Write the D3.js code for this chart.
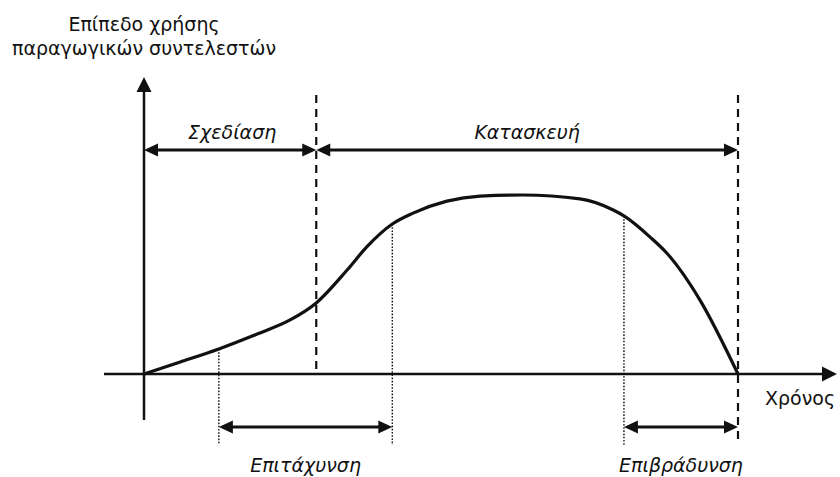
<!DOCTYPE html>
<html>
<head>
<meta charset="utf-8">
<script src="https://cdn.jsdelivr.net/npm/d3@7"></script>
<style>
  body { margin: 0; background: #fff; }
  text { font-family: "DejaVu Sans", "Noto Sans", sans-serif; fill: #111; }
</style>
</head>
<body>
<svg id="chart" width="840" height="477"></svg>
<script>
// ====================== DATA ======================
// time runs 0 (start of project) .. 100 (end of construction), level 0 .. 100 (peak)
const curveTime  = [0, 6.1, 12.6, 19.5, 24.6, 29, 34.2, 37.5, 41.8, 45.3, 51, 56.6, 63.8, 73.4, 79, 80.8, 85.2, 88, 93.6, 100];
const curveLevel = [0, 6.7, 14, 22.9, 30.2, 39.7, 58.1, 71, 83.8, 89.9, 96.6, 99.4, 100, 97.8, 91.6, 88.3, 76.5, 67.6, 41.3, 0];

const phaseNames = ["Σχεδίαση", "Κατασκευή"];
const phaseStart = [0, 29];
const phaseEnd   = [29, 100];

const rateNames = ["Επιτάχυνση", "Επιβράδυνση"];
const rateStart = [12.6, 80.8];
const rateEnd   = [41.8, 100];

const yTitle = ["Επίπεδο χρήσης", "παραγωγικών συντελεστών"];
const xTitle = "Χρόνος";

// ====================== LAYOUT ======================
const svg = d3.select("#chart");
const originX = 144, endX = 738;      // pixel positions of time 0 and 100
const originY = 374, peakY = 195;     // pixel positions of level 0 and 100

const x = d3.scaleLinear().domain([0, 100]).range([originX, endX]);
const y = d3.scaleLinear().domain([0, 100]).range([originY, peakY]);

const axisLeft = 104, axisRight = 837, axisTop = 77, axisBottom = 420;
const markTop = 95, markBottom = 445;
const phaseArrowY = 150, rateArrowY = 427;
const ink = "#111";

// filled arrow head with tip at (tx,ty) pointing in direction (dx,dy)
function head(tx, ty, dx, dy, len, half) {
  const px = -dy, py = dx;
  const bx = tx - dx * len, by = ty - dy * len;
  svg.append("path")
    .attr("d", `M${tx},${ty}L${bx + px * half},${by + py * half}L${bx - px * half},${by - py * half}Z`)
    .attr("fill", ink);
}

// ====================== AXES ======================
svg.append("line")
  .attr("x1", axisLeft).attr("x2", axisRight - 12)
  .attr("y1", originY).attr("y2", originY)
  .attr("stroke", ink).attr("stroke-width", 2.5);
head(axisRight, originY, 1, 0, 15, 7.5);

svg.append("line")
  .attr("x1", originX).attr("x2", originX)
  .attr("y1", axisBottom).attr("y2", axisTop + 12)
  .attr("stroke", ink).attr("stroke-width", 2.5);
head(originX, axisTop, 0, -1, 15, 7.5);

// ====================== PHASE BOUNDARIES ======================
// dashed: end of design (down to the axis) and end of construction
svg.append("line")
  .attr("x1", x(phaseEnd[0])).attr("x2", x(phaseEnd[0]))
  .attr("y1", markTop).attr("y2", originY)
  .attr("stroke", ink).attr("stroke-width", 2.2).attr("stroke-dasharray", "8,6");
svg.append("line")
  .attr("x1", x(phaseEnd[1])).attr("x2", x(phaseEnd[1]))
  .attr("y1", markTop).attr("y2", markBottom)
  .attr("stroke", ink).attr("stroke-width", 2.2).attr("stroke-dasharray", "8,6");

// dotted: from the curve down to the lower arrows
const levelAt = t => {
  const i = curveTime.indexOf(t);
  return i >= 0 ? curveLevel[i] : 0;
};
[rateStart[0], rateEnd[0], rateStart[1]].forEach(t => {
  svg.append("line")
    .attr("x1", x(t)).attr("x2", x(t))
    .attr("y1", y(levelAt(t))).attr("y2", markBottom)
    .attr("stroke", ink).attr("stroke-width", 1.4).attr("stroke-dasharray", "1.6,1.6");
});

// ====================== CURVE ======================
const line = d3.line()
  .x((d, i) => x(curveTime[i]))
  .y(d => y(d))
  .curve(d3.curveMonotoneX);

svg.append("path")
  .datum(curveLevel)
  .attr("d", line)
  .attr("fill", "none")
  .attr("stroke", ink)
  .attr("stroke-width", 3.2)
  .attr("stroke-linejoin", "round");

// ====================== DOUBLE ARROWS ======================
function dimArrow(t0, t1, py) {
  const x0 = x(t0), x1 = x(t1), len = 14, half = 6.5;
  svg.append("line")
    .attr("x1", x0 + len - 2).attr("x2", x1 - len + 2)
    .attr("y1", py).attr("y2", py)
    .attr("stroke", ink).attr("stroke-width", 3);
  head(x0, py, -1, 0, len, half);
  head(x1, py, 1, 0, len, half);
}

phaseNames.forEach((name, i) => {
  dimArrow(phaseStart[i], phaseEnd[i], phaseArrowY);
  svg.append("text")
    .attr("x", (x(phaseStart[i]) + x(phaseEnd[i])) / 2 + (i === 0 ? 2 : 0))
    .attr("y", phaseArrowY - 11)
    .attr("text-anchor", "middle")
    .style("font-size", "19px")
    .style("font-style", "italic")
    .text(name);
});

rateNames.forEach((name, i) => {
  dimArrow(rateStart[i], rateEnd[i], rateArrowY);
  svg.append("text")
    .attr("x", (x(rateStart[i]) + x(rateEnd[i])) / 2)
    .attr("y", rateArrowY + 45)
    .attr("text-anchor", "middle")
    .style("font-size", "19px")
    .style("font-style", "italic")
    .text(name);
});

// ====================== AXIS TITLES ======================
yTitle.forEach((s, i) => {
  svg.append("text")
    .attr("x", originX)
    .attr("y", 31 + i * 24)
    .attr("text-anchor", "middle")
    .style("font-size", "19px")
    .text(s);
});

svg.append("text")
  .attr("x", 765)
  .attr("y", 405)
  .style("font-size", "19px")
  .text(xTitle);
</script>
</body>
</html>
